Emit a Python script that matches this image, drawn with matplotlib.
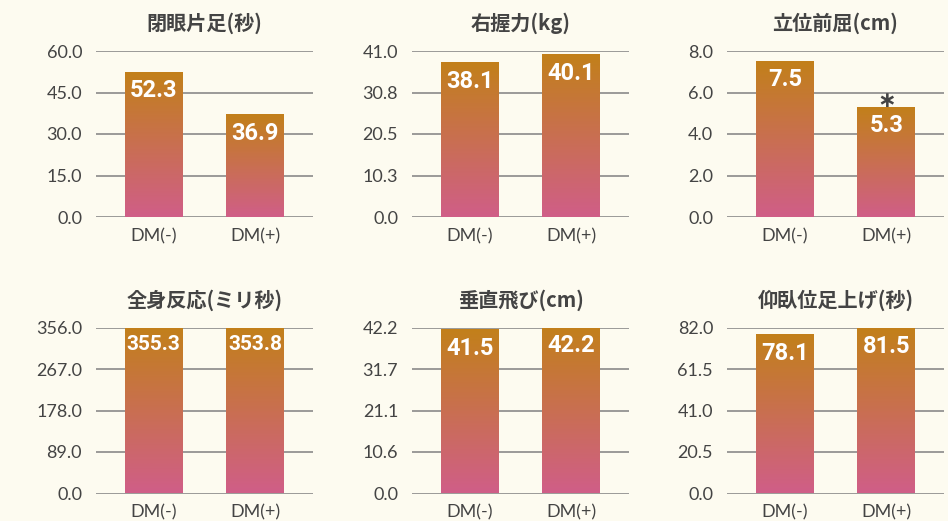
import matplotlib.pyplot as plt
import numpy as np
from matplotlib.colors import LinearSegmentedColormap

plt.rcParams['font.family'] = ['Noto Sans CJK JP', 'DejaVu Sans']

titles = ["閉眼片足(秒)", "右握力(kg)", "立位前屈(cm)",
          "全身反応(ミリ秒)", "垂直飛び(cm)", "仰臥位足上げ(秒)"]
groups = ["DM(-)", "DM(+)"]
dm_minus = [52.3, 38.1, 7.5, 355.3, 41.5, 78.1]
dm_plus = [36.9, 40.1, 5.3, 353.8, 42.2, 81.5]
axis_max = [60.0, 41.0, 8.0, 356.0, 42.2, 82.0]
significant = [False, False, True, False, False, False]

BG = "#fdfbf0"
TEXT = "#444444"
GRID = "#808080"
grad = LinearSegmentedColormap.from_list("bar", ["#d05e88", "#c2801a"])
NUM_FONT = ["Lato", "DejaVu Sans"]
VAL_FONT = ["Roboto", "DejaVu Sans"]

fig = plt.figure(figsize=(9.48, 5.21), dpi=100, facecolor=BG)

lefts = [96, 412, 727]
tops = [51, 327.5]
W, H = 948, 521
aw, ah = 217, 166
bar_w = 0.57

for i, title in enumerate(titles):
    r, c = divmod(i, 3)
    ax = fig.add_axes([lefts[c] / W, 1 - (tops[r] + ah) / H, aw / W, ah / H])
    ax.set_facecolor(BG)
    vals = [dm_minus[i], dm_plus[i]]
    ymax = axis_max[i]
    ticks = np.linspace(0, ymax, 5)

    for t in ticks:
        ax.axhline(t, color=GRID, lw=1.1, zorder=1)

    for x, v in zip(range(2), vals):
        g = np.linspace(0, 1, 256).reshape(-1, 1)
        ax.imshow(g, cmap=grad, origin="lower", aspect="auto",
                  extent=[x - bar_w / 2, x + bar_w / 2, 0, v], zorder=2)
        txt = f"{v:.1f}"
        fs = 15 if len(txt) > 4 else 17
        ax.annotate(txt, (x, v), xytext=(0, -5), textcoords="offset points",
                    ha="center", va="top", color="white", fontsize=fs,
                    fontweight="bold", family=VAL_FONT, zorder=3)
        if x == 1 and significant[i]:
            ax.annotate(r"$\mathbf{\ast}$", (x, v), xytext=(0, 5),
                        textcoords="offset points", ha="center", va="center",
                        color=TEXT, fontsize=16, zorder=3)

    ax.set_xlim(-0.57, 1.57)
    ax.set_ylim(0, ymax)
    ax.set_yticks(ticks)
    ax.set_yticklabels([f"{t + 1e-9:.1f}" for t in ticks], family=NUM_FONT)
    ax.set_xticks([0, 1])
    ax.set_xticklabels(groups, family=NUM_FONT)
    ax.tick_params(length=0, labelsize=13, colors=TEXT)
    ax.tick_params(axis="y", pad=10)
    ax.tick_params(axis="x", pad=8)
    for s in ax.spines.values():
        s.set_visible(False)
    ax.set_title(title, fontsize=14.5, fontweight="bold", color=TEXT, pad=15)

fig.savefig("out.png", dpi=100, facecolor=BG)
